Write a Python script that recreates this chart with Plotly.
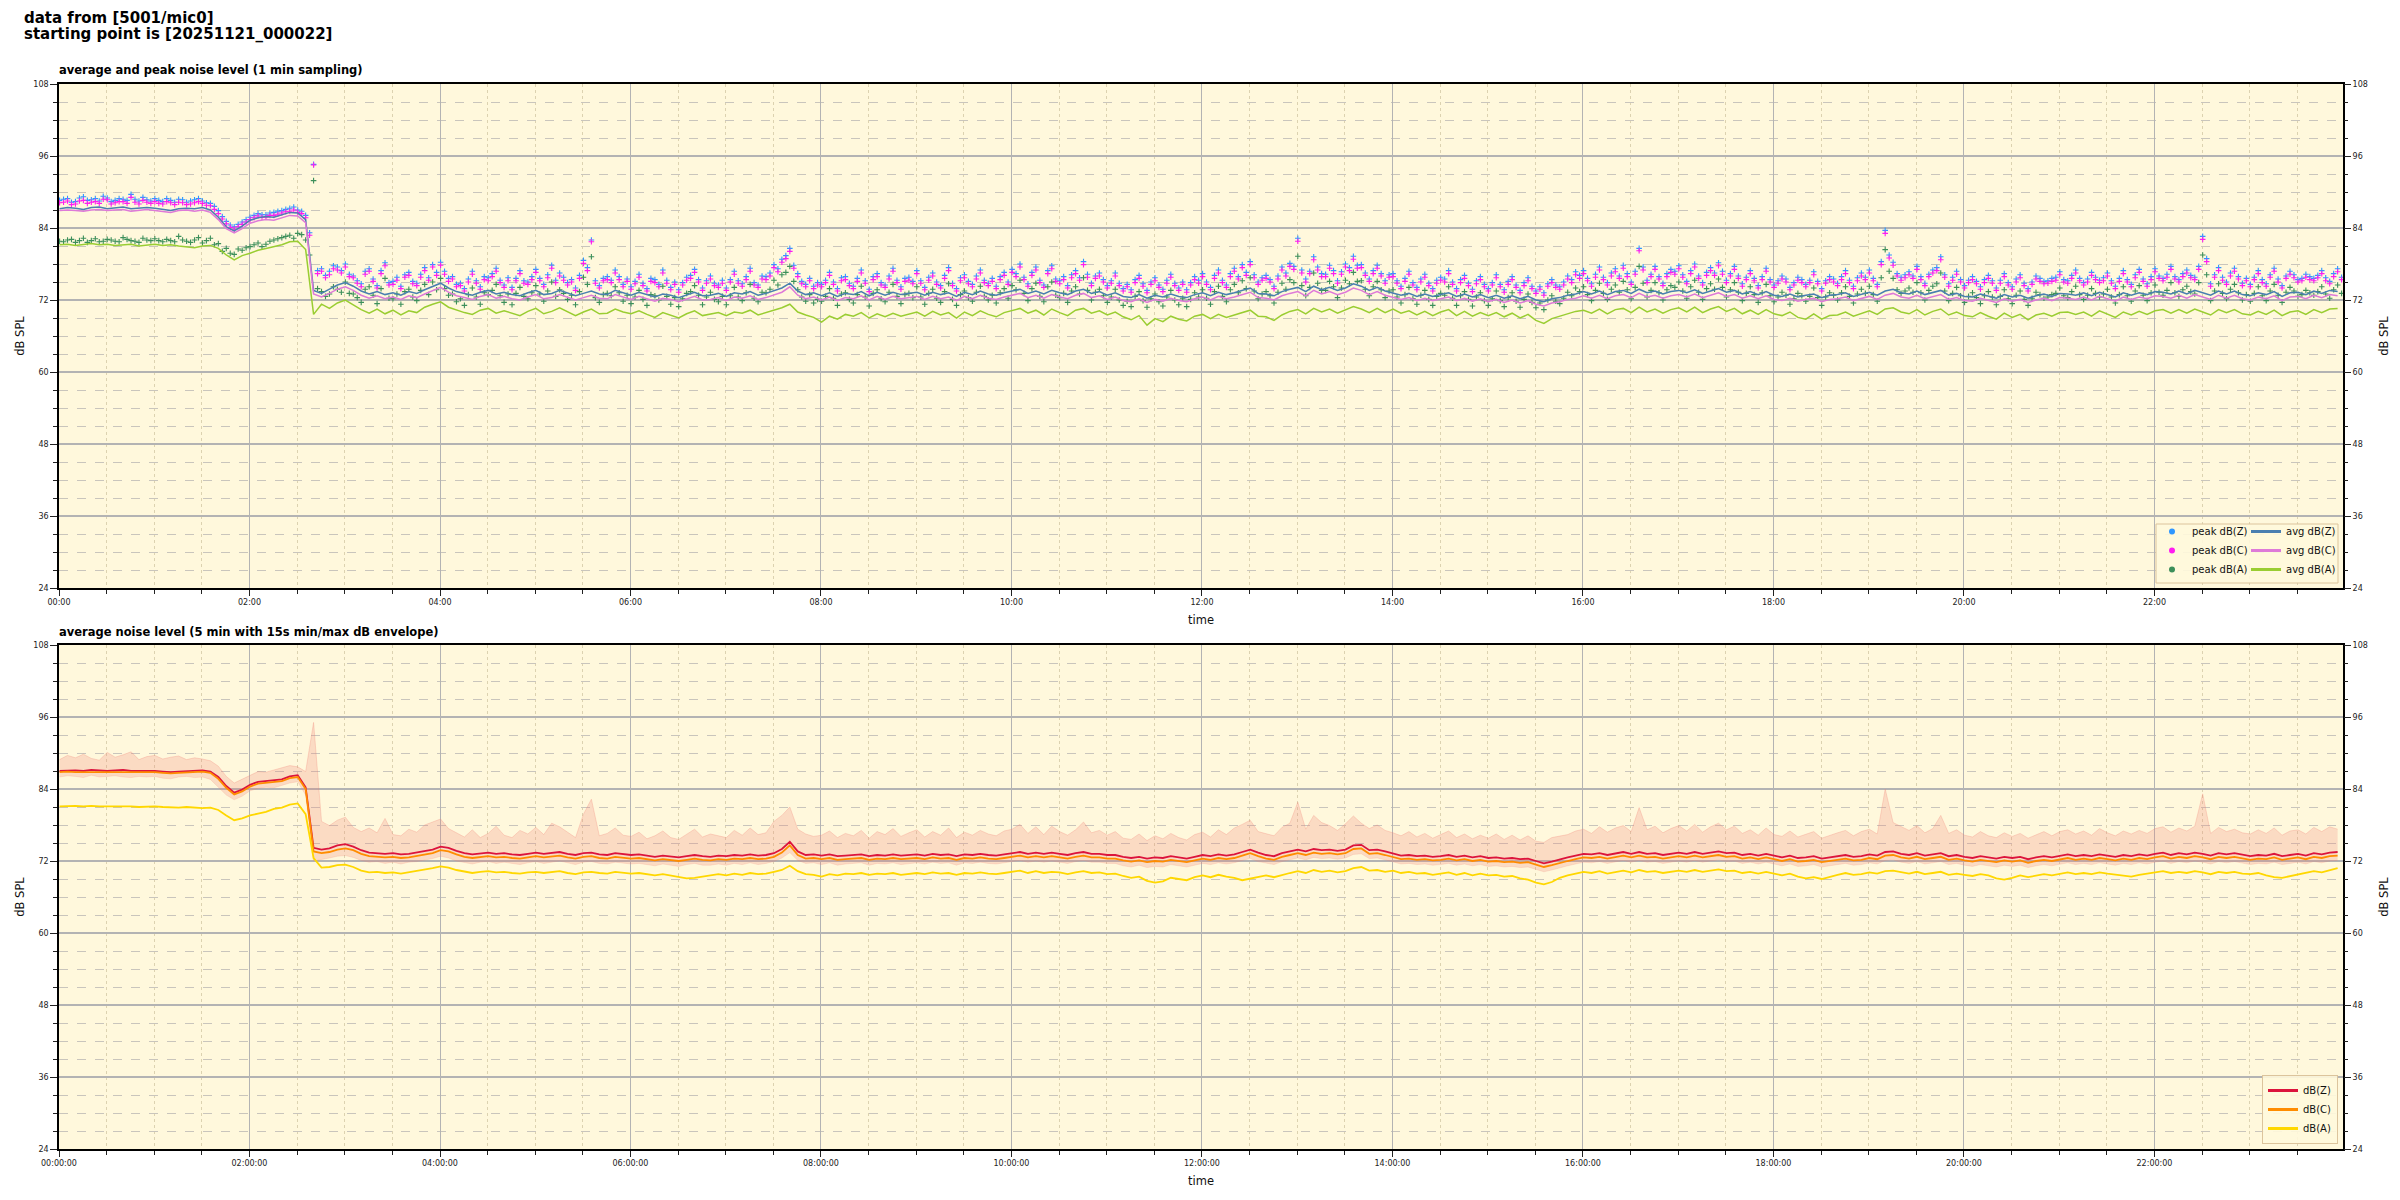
import pandas as pd
import plotly.graph_objects as go

# ---------------- data (values in dB SPL) ----------------
# 5-minute grid starting at the first sample, and the in-between grid (+2.5 min)
t = pd.date_range("2025-11-21 00:00:22", periods=288, freq="5min")
t_mid = t + pd.Timedelta(seconds=150)

avg_z = [
87.2,87.4,87.3,87.1,87.4,87.5,87.2,87.3,87.5,87.2,87.3,87.4,
87.3,87.1,86.9,87.2,87.3,87.2,87.4,87.0,85.8,84.2,83.5,84.3,
85.3,85.7,85.9,85.8,86.2,86.6,86.5,85.4,73.6,73.1,73.8,74.5,
74.9,74.3,73.5,73.0,73.4,72.9,73.2,72.8,73.4,73.1,73.7,74.3,
74.8,74.0,73.4,73.1,72.8,73.3,73.6,73.0,73.3,72.9,72.7,73.2,
73.6,72.9,73.1,73.6,73.2,72.7,73.1,73.5,73.0,72.9,73.6,73.2,
72.8,73.3,72.9,72.5,73.0,72.8,72.4,72.9,73.3,72.7,72.8,73.1,
72.6,73.2,73.0,73.4,72.8,73.1,73.6,74.0,74.8,73.5,72.9,73.2,
72.7,73.2,72.6,73.1,72.9,73.4,72.7,73.3,72.8,73.3,72.9,73.1,
73.3,72.8,73.3,72.9,73.2,72.6,73.3,72.9,73.5,73.0,72.8,73.2,
73.5,73.8,73.1,73.5,73.0,73.6,73.2,72.9,73.5,73.8,73.1,73.4,
72.8,73.2,72.6,72.4,72.9,72.3,72.8,72.5,73.0,72.6,72.4,72.9,
73.2,72.7,73.3,72.9,73.2,73.6,74.0,73.1,73.0,72.7,73.4,73.8,
74.1,73.4,74.3,73.7,74.1,73.6,74.0,74.7,74.3,73.6,74.1,73.5,
73.2,72.8,73.1,72.6,73.0,72.6,72.9,73.2,72.6,73.0,72.5,72.9,
72.4,72.8,72.3,72.7,72.2,72.6,72.0,71.7,72.2,72.4,72.8,73.0,
73.4,73.0,73.5,72.9,73.4,73.6,73.1,73.8,73.2,73.5,73.0,73.4,
73.6,73.2,73.7,73.1,73.5,73.9,73.3,73.6,73.0,73.4,72.9,73.4,
72.8,72.6,73.0,72.5,72.8,73.0,72.4,72.8,72.9,73.2,72.6,73.0,
73.3,72.8,73.5,73.8,73.2,73.0,73.5,72.9,73.2,73.6,72.8,73.1,
72.6,72.5,73.0,72.6,72.3,72.9,72.5,72.8,72.3,72.7,73.0,72.6,
73.1,73.0,72.8,73.2,72.7,73.3,72.9,72.5,73.2,72.8,73.2,72.9,
73.4,73.3,73.0,73.5,73.0,73.6,73.2,72.8,73.5,73.0,73.5,72.9,
72.7,73.2,72.9,73.4,72.6,73.2,73.3,72.9,73.5,73.1,73.6,73.4,
]

avg_c = [
86.9,87.0,86.9,86.8,87.0,87.1,86.9,87.0,87.1,86.8,87.0,87.1,
86.9,86.8,86.6,86.9,87.0,86.8,87.0,86.6,85.4,83.9,83.2,83.9,
84.8,85.2,85.4,85.3,85.7,86.1,86.0,84.9,73.0,72.5,73.1,73.8,
74.2,73.6,72.8,72.3,72.7,72.2,72.5,72.1,72.7,72.4,73.0,73.6,
74.1,73.3,72.7,72.4,72.1,72.6,72.9,72.3,72.6,72.2,72.0,72.5,
72.9,72.2,72.4,72.9,72.5,72.0,72.4,72.8,72.3,72.2,72.9,72.5,
72.1,72.6,72.2,71.8,72.3,72.1,71.7,72.2,72.6,72.0,72.1,72.4,
71.9,72.5,72.3,72.7,72.1,72.4,72.9,73.3,74.2,72.8,72.2,72.5,
72.0,72.5,71.9,72.4,72.2,72.7,72.0,72.6,72.1,72.6,72.2,72.4,
72.6,72.1,72.6,72.2,72.5,71.9,72.6,72.2,72.8,72.3,72.1,72.5,
72.8,73.1,72.4,72.8,72.3,72.9,72.5,72.2,72.8,73.1,72.4,72.7,
72.1,72.5,71.9,71.7,72.2,71.6,72.1,71.8,72.3,71.9,71.7,72.2,
72.5,72.0,72.6,72.2,72.5,72.9,73.3,72.4,72.3,72.0,72.7,73.1,
73.4,72.7,73.6,73.0,73.4,72.9,73.3,74.0,73.6,72.9,73.4,72.8,
72.5,72.1,72.4,71.9,72.3,71.9,72.2,72.5,71.9,72.3,71.8,72.2,
71.7,72.1,71.6,72.0,71.5,71.9,71.3,71.0,71.5,71.7,72.1,72.3,
72.7,72.3,72.8,72.2,72.7,72.9,72.4,73.1,72.5,72.8,72.3,72.7,
72.9,72.5,73.0,72.4,72.8,73.2,72.6,72.9,72.3,72.7,72.2,72.7,
72.1,71.9,72.3,71.8,72.1,72.3,71.7,72.1,72.2,72.5,71.9,72.3,
72.6,72.1,72.8,73.1,72.5,72.3,72.8,72.2,72.5,72.9,72.1,72.4,
71.9,71.8,72.3,71.9,71.6,72.2,71.8,72.1,71.6,72.0,72.3,71.9,
72.4,72.3,72.1,72.5,72.0,72.6,72.2,71.8,72.5,72.1,72.5,72.2,
72.7,72.6,72.3,72.8,72.3,72.9,72.5,72.1,72.8,72.3,72.8,72.2,
72.0,72.5,72.2,72.7,71.9,72.5,72.6,72.2,72.8,72.4,72.9,72.7,
]

avg_a = [
81.2,81.3,81.1,81.2,81.4,81.2,81.3,81.1,81.2,81.3,81.0,81.2,
81.3,81.1,81.2,81.0,80.9,80.7,81.0,81.1,80.6,79.5,78.7,79.4,
79.8,80.3,80.6,80.9,81.2,81.7,81.8,80.4,69.6,71.3,70.6,71.5,
72.0,71.2,70.4,69.8,70.5,69.7,70.3,69.5,70.2,69.9,70.8,71.3,
71.7,70.8,70.3,69.9,69.6,70.3,70.6,69.8,70.2,69.8,69.4,70.1,
70.6,69.7,70.1,70.7,70.1,69.4,70.0,70.5,69.7,69.8,70.5,70.0,
69.7,70.2,69.6,69.1,69.9,69.5,69.0,69.7,70.2,69.4,69.6,69.9,
69.4,70.0,69.8,70.3,69.5,69.9,70.4,70.7,71.3,70.0,69.5,69.1,
68.3,69.3,68.8,69.6,69.3,69.9,69.0,69.7,69.2,69.8,69.3,69.6,
70.0,69.3,70.1,69.5,69.9,69.0,70.0,69.4,70.2,69.6,69.2,69.9,
70.2,70.6,69.8,70.3,69.5,70.5,69.9,69.4,70.3,70.6,69.8,70.2,
69.5,70.0,69.2,68.7,69.4,67.8,68.9,68.4,69.3,68.8,68.5,69.3,
69.6,68.9,69.6,69.1,69.5,69.9,70.3,69.3,69.2,68.6,69.5,70.1,
70.4,69.7,70.6,70.0,70.5,69.8,70.4,70.9,70.5,69.9,70.6,69.9,
70.5,69.8,70.2,69.5,70.1,69.4,70.0,70.4,69.4,70.1,69.3,69.9,
69.4,69.9,69.2,69.8,69.0,69.6,68.6,68.1,68.9,69.3,69.7,70.1,
70.3,69.8,70.5,69.7,70.4,70.6,69.9,70.8,70.0,70.5,69.8,70.4,
70.7,70.0,70.8,69.9,70.5,70.9,70.1,70.6,69.7,70.3,69.6,70.4,
69.7,69.4,70.0,69.1,68.8,69.7,68.8,69.4,69.5,70.0,69.3,69.8,
70.2,69.6,70.5,70.7,70.0,69.7,70.4,69.5,70.1,70.5,69.5,70.0,
69.4,69.2,69.9,69.3,68.8,69.8,69.1,69.6,68.7,69.5,69.8,69.3,
69.9,70.0,69.6,70.0,69.3,70.2,69.6,69.1,70.0,69.5,70.1,69.6,
70.2,70.4,69.8,70.4,69.8,70.5,70.0,69.5,70.4,69.9,70.4,69.7,
69.5,70.1,69.6,70.3,69.4,70.0,70.2,69.6,70.4,69.9,70.5,70.6,
]

# per-minute peaks, read at 2.5-minute spacing: *_on at t, *_mid at t_mid
peak_z_on = [
88.6,88.9,88.4,89.2,88.7,88.5,89.0,88.6,88.8,89.6,88.5,88.7,
88.9,88.4,88.6,88.8,88.3,88.7,88.5,88.1,86.9,85.1,84.2,85.0,
85.8,86.4,86.2,86.6,86.9,87.3,87.0,86.1,94.6,77.2,76.8,77.5,
78.0,76.0,74.7,77.2,74.4,78.2,75.1,74.3,76.6,74.8,77.4,77.9,
78.3,75.6,74.6,73.9,76.8,74.2,75.7,77.3,74.5,74.1,76.9,75.0,
77.1,74.6,77.8,76.5,74.9,74.0,78.6,82.0,74.4,75.9,77.0,74.6,
74.2,76.3,73.9,75.4,77.0,74.1,73.7,75.8,77.1,74.0,76.0,74.5,
74.0,76.8,74.7,77.3,74.5,75.9,77.9,78.8,80.6,76.4,74.6,74.3,
74.6,76.6,73.9,75.9,74.3,77.0,73.8,76.4,74.5,77.3,74.2,75.8,
76.9,74.1,76.5,74.4,77.4,73.9,76.2,74.6,77.0,74.8,74.3,76.6,
77.1,78.0,74.7,77.5,74.5,77.7,75.2,74.4,76.9,78.4,74.8,76.5,
74.4,76.5,73.9,73.7,76.1,73.6,75.7,73.8,76.3,74.0,73.7,75.9,
76.4,74.1,77.0,74.5,77.3,77.9,78.4,75.0,76.1,74.3,77.5,78.1,
82.3,75.5,79.2,76.4,77.8,75.2,78.0,79.3,77.9,75.5,77.8,75.2,
76.4,74.3,76.8,74.1,76.3,73.9,75.8,76.9,73.9,76.1,73.8,75.9,
73.9,76.2,73.7,75.9,73.6,75.7,73.5,73.2,75.4,74.2,76.0,76.7,
76.9,74.7,77.5,74.9,77.2,77.8,75.0,80.6,75.3,77.6,74.8,77.1,
77.7,75.1,78.0,74.9,77.4,78.2,75.3,77.6,74.7,76.9,74.4,77.3,
74.5,76.0,74.1,75.8,74.6,76.7,73.9,75.9,74.8,76.9,74.3,76.5,
77.0,74.6,83.6,78.3,75.8,76.7,77.6,74.8,77.0,79.2,74.7,76.8,
74.4,75.9,74.2,76.1,74.0,76.4,74.2,76.2,73.9,76.0,75.1,75.6,
76.7,75.2,77.0,74.9,76.6,75.3,76.5,74.3,76.9,74.6,77.1,74.7,
77.2,75.6,77.6,75.4,77.0,75.8,82.6,74.7,77.4,75.0,77.3,74.8,
74.6,76.9,74.7,77.3,74.4,76.8,75.4,76.3,75.6,76.9,75.1,77.2,
]

peak_z_mid = [
88.8,88.3,89.0,88.6,88.9,89.3,88.4,88.9,88.6,88.8,89.1,88.5,
88.6,88.9,88.3,88.7,88.5,88.9,88.2,87.6,85.9,84.5,84.6,85.4,
86.1,86.2,86.5,86.8,87.1,87.5,86.8,83.2,76.9,76.1,77.7,76.9,
76.3,75.2,76.8,75.5,76.9,74.9,75.8,76.2,75.1,76.3,75.7,76.6,
76.8,75.9,74.8,75.5,75.2,75.9,76.4,75.3,75.7,75.6,75.2,75.9,
75.6,76.2,75.3,75.8,75.4,76.1,77.4,75.2,75.6,75.3,75.9,75.5,
75.1,74.8,75.6,74.6,75.3,75.0,74.9,76.1,75.4,75.2,74.8,75.3,
75.4,75.2,75.9,74.9,76.0,76.5,77.2,79.4,77.8,75.1,75.6,74.9,
75.3,75.0,75.7,74.8,75.6,75.2,75.9,74.9,76.0,75.3,75.6,75.1,
75.2,75.8,75.0,76.1,74.8,75.7,75.1,76.0,75.3,75.6,75.9,75.0,
76.4,75.8,76.6,75.3,76.9,75.5,75.9,76.2,75.7,76.3,76.0,75.4,
75.2,74.8,74.6,75.4,74.7,75.0,74.5,75.3,74.8,75.0,74.9,75.3,
75.0,76.1,75.3,76.4,75.9,76.6,76.2,75.7,75.4,76.0,76.5,77.6,
77.0,76.8,77.5,76.3,76.9,76.7,77.4,77.8,76.5,76.9,76.4,76.2,
75.2,75.6,74.9,75.5,74.8,75.3,75.5,75.0,75.4,74.8,75.2,74.6,
74.9,74.6,75.1,74.5,74.9,74.3,74.2,74.7,74.5,75.0,75.4,76.1,
75.6,76.3,75.8,76.5,76.0,76.4,76.8,77.5,76.3,75.9,76.4,76.8,
76.2,76.9,76.0,76.6,76.5,76.8,76.4,76.0,75.8,75.6,75.9,75.4,
75.2,75.5,74.9,75.4,75.3,75.1,75.2,75.5,75.9,75.3,75.7,75.8,
75.6,78.4,79.5,76.4,76.2,76.0,75.9,76.3,77.4,76.2,75.8,75.4,
75.3,75.1,75.4,75.2,75.3,74.9,75.5,74.8,75.0,75.6,75.2,75.8,
75.4,76.1,75.6,75.5,75.8,75.7,75.2,75.6,75.4,76.2,75.5,75.9,
76.0,76.3,75.9,76.4,76.1,77.6,78.9,76.2,75.8,76.5,75.9,75.6,
75.8,75.4,76.2,75.5,76.0,76.2,75.6,75.9,76.1,75.7,76.4,75.8,
]

peak_c_on = [
88.2,88.5,88.0,88.6,88.3,88.1,88.7,88.2,88.4,89.1,88.0,88.3,
88.4,88.0,88.2,88.3,87.9,88.2,88.1,87.7,86.4,84.7,83.8,84.6,
85.4,86.0,85.8,86.1,86.5,86.8,86.6,85.7,94.5,76.8,76.2,77.0,
77.5,75.7,74.2,76.8,74.0,77.7,74.6,73.9,76.1,74.4,76.9,77.5,
77.8,75.1,74.2,73.5,76.3,73.8,75.2,76.8,74.1,73.7,76.4,74.6,
76.6,74.2,77.3,76.0,74.5,73.6,78.1,81.7,74.0,75.4,76.5,74.2,
73.8,75.8,73.5,74.9,76.5,73.7,73.3,75.3,76.6,73.6,75.5,74.1,
73.6,76.3,74.3,76.8,74.1,75.4,77.4,78.3,80.1,75.9,74.2,73.9,
74.2,76.1,73.5,75.4,73.9,76.5,73.4,75.9,74.1,76.8,73.8,75.3,
76.4,73.7,76.0,74.0,76.9,73.5,75.7,74.2,76.5,74.4,73.9,76.1,
76.6,77.5,74.3,77.0,74.1,77.2,74.7,74.0,76.4,77.9,74.4,76.0,
74.0,76.0,73.5,73.3,75.6,73.2,75.2,73.4,75.8,73.6,73.3,75.4,
75.9,73.7,76.5,74.1,76.8,77.4,77.9,74.6,75.6,73.9,77.0,77.6,
81.8,75.0,78.7,75.9,77.3,74.8,77.5,78.8,77.4,75.1,77.3,74.8,
75.9,73.9,76.3,73.7,75.8,73.5,75.3,76.4,73.5,75.6,73.4,75.4,
73.5,75.7,73.3,75.4,73.2,75.2,73.1,72.8,74.9,73.8,75.5,76.2,
76.4,74.3,77.0,74.5,76.7,77.3,74.6,80.2,74.9,77.1,74.4,76.6,
77.2,74.7,77.5,74.5,76.9,77.7,74.9,77.1,74.3,76.4,74.0,76.8,
74.1,75.5,73.7,75.3,74.2,76.2,73.5,75.4,74.4,76.4,73.9,76.0,
76.5,74.2,83.1,77.8,75.3,76.2,77.1,74.4,76.5,78.7,74.3,76.3,
74.0,75.4,73.8,75.6,73.6,75.9,73.8,75.7,73.5,75.5,74.7,75.1,
76.2,74.8,76.5,74.5,76.1,74.9,76.0,73.9,76.4,74.2,76.6,74.3,
76.7,75.2,77.1,75.0,76.5,75.4,82.1,74.3,76.9,74.6,76.8,74.4,
74.2,76.4,74.3,76.8,74.0,76.3,75.0,75.8,75.2,76.4,74.7,76.7,
]

peak_c_mid = [
88.3,87.9,88.5,88.1,88.4,88.8,88.0,88.4,88.1,88.3,88.6,88.1,
88.1,88.4,87.9,88.2,88.0,88.4,87.8,87.1,85.5,84.1,84.2,85.0,
85.7,85.8,86.1,86.3,86.7,87.0,86.4,82.8,76.4,75.7,77.2,76.5,
75.9,74.8,76.3,75.1,76.4,74.5,75.3,75.8,74.7,75.8,75.3,76.1,
76.3,75.5,74.4,75.0,74.8,75.4,75.9,74.9,75.2,75.2,74.8,75.4,
75.2,75.7,74.9,75.3,75.0,75.6,76.9,74.8,75.2,74.9,75.4,75.1,
74.7,74.4,75.1,74.2,74.8,74.6,74.5,75.6,75.0,74.8,74.4,74.8,
75.0,74.8,75.4,74.5,75.5,76.0,76.7,78.9,77.3,74.7,75.2,74.5,
74.9,74.6,75.2,74.4,75.1,74.8,75.4,74.5,75.5,74.9,75.1,74.7,
74.8,75.3,74.6,75.6,74.4,75.2,74.7,75.5,74.9,75.1,75.4,74.6,
75.9,75.4,76.1,74.9,76.4,75.1,75.4,75.7,75.3,75.8,75.6,75.0,
74.8,74.4,74.2,74.9,74.3,74.6,74.1,74.8,74.4,74.6,74.5,74.8,
74.6,75.6,74.9,75.9,75.5,76.1,75.7,75.3,75.0,75.5,76.0,77.1,
76.5,76.4,77.0,75.9,76.4,76.3,76.9,77.3,76.1,76.4,76.0,75.8,
74.8,75.1,74.5,75.0,74.4,74.8,75.0,74.6,74.9,74.4,74.7,74.2,
74.5,74.2,74.6,74.1,74.4,73.9,73.8,74.3,74.1,74.5,74.9,75.6,
75.2,75.8,75.4,76.0,75.6,75.9,76.3,77.0,75.9,75.5,75.9,76.3,
75.8,76.4,75.6,76.1,76.1,76.3,76.0,75.6,75.4,75.2,75.4,75.0,
74.8,75.0,74.5,74.9,74.9,74.7,74.8,75.0,75.4,74.9,75.2,75.4,
75.2,77.9,79.0,76.0,75.7,75.6,75.4,75.9,76.9,75.8,75.3,75.0,
74.9,74.7,74.9,74.8,74.8,74.5,75.0,74.4,74.6,75.1,74.8,75.3,
75.0,75.6,75.2,75.0,75.4,75.2,74.8,75.1,75.0,75.7,75.1,75.4,
75.6,75.8,75.5,75.9,75.7,77.1,78.4,75.8,75.3,76.0,75.5,75.2,
75.4,74.9,75.8,75.0,75.6,75.7,75.2,75.4,75.7,75.2,75.9,75.4,
]

peak_a_on = [
81.8,82.0,81.6,82.3,81.9,81.7,82.1,81.8,82.4,81.9,81.6,82.0,
82.2,81.7,81.9,82.6,81.8,82.0,81.5,82.3,81.4,80.6,79.6,80.3,
80.9,81.5,81.3,82.0,82.4,82.8,83.1,82.0,91.9,73.4,73.0,73.8,
75.0,73.0,71.6,74.2,71.4,75.6,72.2,71.3,73.8,71.9,74.6,75.0,
75.6,72.8,71.7,71.1,74.0,71.3,72.9,74.6,71.6,71.2,74.1,72.2,
74.4,71.8,75.0,73.7,72.1,71.2,75.8,79.2,71.6,73.1,74.2,71.8,
71.4,73.6,71.1,72.7,74.3,71.3,70.9,73.1,74.4,71.2,73.3,71.7,
71.2,74.1,71.9,74.6,71.7,73.2,75.3,76.2,77.6,73.7,71.8,71.5,
71.8,73.9,71.1,73.2,71.5,74.3,71.0,73.7,71.7,74.6,71.4,73.1,
74.2,71.3,73.8,71.6,74.7,71.1,73.5,71.8,74.3,72.0,71.5,73.9,
74.4,75.3,71.9,74.8,71.7,75.0,72.4,71.6,74.2,75.7,72.0,73.8,
71.6,73.8,71.1,70.9,73.4,70.8,73.0,71.0,73.6,71.2,70.9,73.2,
73.7,71.3,74.3,71.7,74.6,75.2,75.7,72.2,73.4,71.5,74.8,75.4,
79.3,72.7,76.5,73.6,75.1,72.4,75.3,76.6,75.2,72.7,75.1,72.4,
73.7,71.5,74.1,71.3,73.6,71.1,73.1,74.2,71.1,73.4,71.0,73.2,
71.1,73.5,70.9,73.2,70.8,73.0,70.7,70.4,72.7,71.4,73.3,74.0,
74.2,71.9,74.8,72.1,74.5,75.1,72.2,77.6,72.5,74.9,72.0,74.4,
75.0,72.3,75.3,72.1,74.7,75.5,72.5,74.9,71.9,74.2,71.6,74.6,
71.7,73.3,71.3,73.1,71.8,74.0,71.1,73.2,72.0,74.2,71.5,73.8,
74.3,71.8,80.4,75.6,73.1,74.0,74.9,72.0,74.3,76.5,71.9,74.1,
71.6,73.2,71.4,73.4,71.2,73.7,71.4,73.5,71.1,73.3,72.3,72.9,
74.0,72.4,74.3,72.1,73.9,72.5,73.8,71.5,74.2,71.8,74.4,71.9,
74.5,72.8,74.9,72.6,74.3,73.0,79.5,71.9,74.7,72.2,74.6,72.0,
71.8,74.2,71.9,74.6,71.6,74.1,72.6,73.6,72.8,74.2,72.3,74.5,
]

peak_a_mid = [
81.7,82.1,81.9,81.6,82.2,81.8,82.0,81.7,82.1,81.8,82.3,81.9,
81.9,82.1,81.7,82.0,81.6,82.4,81.9,81.2,80.1,79.8,80.5,80.7,
81.2,80.9,81.8,82.2,82.6,82.3,82.9,79.5,73.9,72.6,74.2,73.3,
73.1,72.4,73.8,72.8,73.9,72.3,73.0,73.4,72.5,73.6,72.9,73.7,
73.9,73.0,72.2,72.9,72.5,73.2,73.6,72.7,73.0,73.1,72.6,73.2,
73.0,73.5,72.6,73.1,72.8,73.4,74.6,72.4,72.9,72.7,73.2,72.8,
72.5,72.1,72.9,72.0,72.6,72.4,72.2,73.4,72.8,72.5,72.1,72.6,
72.7,72.5,73.2,72.3,73.3,73.8,74.5,76.6,75.1,72.5,72.9,72.1,
72.6,72.3,73.0,72.1,72.9,72.5,73.1,72.2,73.3,72.6,72.9,72.4,
72.5,73.1,72.3,73.4,72.1,72.9,72.4,73.3,72.6,72.8,73.2,72.3,
73.7,73.1,73.9,72.6,74.2,72.8,73.1,73.5,73.0,73.6,73.3,72.7,
72.5,72.0,71.8,72.6,71.9,72.2,71.7,72.5,72.0,72.3,72.1,72.5,
72.3,73.4,72.6,73.7,73.2,73.9,73.5,73.0,72.7,73.3,73.8,74.9,
74.4,74.1,74.8,73.6,74.2,74.0,74.7,75.1,73.8,74.2,73.7,73.5,
72.5,72.9,72.2,72.8,72.1,72.6,72.8,72.3,72.7,72.1,72.5,71.9,
72.2,71.9,72.4,71.8,72.1,71.6,71.5,72.0,71.8,72.3,72.7,73.4,
72.9,73.6,73.1,73.8,73.3,73.7,74.1,74.8,73.6,73.2,73.7,74.1,
73.5,74.2,73.3,73.9,73.8,74.1,73.7,73.3,73.1,72.9,73.2,72.7,
72.5,72.8,72.2,72.7,72.6,72.4,72.5,72.8,73.2,72.6,73.0,73.1,
72.9,75.7,76.8,73.7,73.5,73.3,73.2,73.6,74.7,73.5,73.1,72.7,
72.6,72.4,72.7,72.5,72.6,72.2,72.8,72.1,72.3,72.9,72.5,73.1,
72.7,73.4,72.9,72.8,73.1,73.0,72.5,72.9,72.7,73.5,72.8,73.2,
73.3,73.6,73.2,73.7,73.4,74.9,76.2,73.5,73.1,73.8,73.2,72.9,
73.1,72.7,73.5,72.8,73.3,73.5,72.9,73.2,73.4,73.0,73.7,73.1,
]

# 5-minute averages (lower chart)
db_z = [
87.0,87.1,87.1,87.0,87.2,87.1,87.0,87.1,87.2,87.0,87.0,87.1,
87.0,86.9,86.8,86.9,87.0,87.0,87.1,86.9,86.0,84.5,83.4,83.9,
84.7,85.2,85.3,85.4,85.6,86.1,86.3,84.3,74.2,73.9,74.1,74.6,
74.8,74.4,73.8,73.4,73.3,73.2,73.3,73.1,73.2,73.4,73.6,73.9,
74.4,74.2,73.7,73.3,73.1,73.2,73.4,73.2,73.3,73.1,73.0,73.2,
73.4,73.2,73.3,73.5,73.2,73.0,73.3,73.4,73.1,73.0,73.3,73.2,
73.0,73.1,72.9,72.7,72.9,72.8,72.6,72.8,73.0,72.8,72.7,72.9,
72.8,73.0,72.9,73.1,72.9,73.0,73.3,74.0,75.2,73.6,73.0,73.1,
72.9,73.1,72.8,72.9,73.0,73.1,72.8,73.0,72.9,73.1,72.9,73.0,
73.1,72.9,73.2,73.0,73.1,72.8,73.1,73.0,73.2,73.0,72.9,73.1,
73.3,73.5,73.2,73.4,73.2,73.4,73.2,73.0,73.3,73.5,73.2,73.2,
73.0,73.0,72.7,72.5,72.7,72.4,72.6,72.5,72.8,72.6,72.4,72.7,
73.0,72.8,73.1,72.9,73.1,73.5,73.9,73.4,73.0,72.8,73.3,73.6,
73.9,73.6,74.0,73.8,73.9,73.7,73.9,74.6,74.7,73.8,73.9,73.6,
73.2,72.9,73.0,72.8,72.9,72.7,72.8,73.0,72.7,72.9,72.6,72.8,
72.5,72.6,72.4,72.5,72.3,72.4,72.0,71.6,71.9,72.3,72.6,72.9,
73.2,73.1,73.3,73.0,73.2,73.5,73.2,73.5,73.2,73.3,73.0,73.2,
73.4,73.2,73.5,73.2,73.4,73.6,73.3,73.4,73.0,73.2,72.9,73.2,
72.9,72.6,72.9,72.5,72.6,72.8,72.4,72.6,72.8,73.0,72.7,72.8,
73.1,72.9,73.5,73.6,73.2,73.0,73.3,72.9,73.1,73.3,72.8,73.0,
72.7,72.5,72.8,72.6,72.4,72.7,72.5,72.7,72.3,72.6,72.8,72.6,
72.9,73.1,72.8,73.0,72.8,73.1,72.9,72.7,73.0,72.8,73.1,72.9,
73.2,73.4,73.0,73.3,73.1,73.4,73.2,72.9,73.3,73.1,73.3,73.0,
72.8,73.0,72.9,73.2,72.8,73.0,73.2,72.9,73.3,73.1,73.4,73.5,
]

db_c = [
86.8,86.9,86.8,86.8,86.9,86.8,86.8,86.9,86.9,86.8,86.8,86.9,
86.8,86.7,86.6,86.7,86.8,86.8,86.9,86.7,85.7,84.2,83.1,83.6,
84.4,84.9,85.0,85.1,85.3,85.8,86.0,84.0,73.6,73.3,73.5,73.9,
74.1,73.8,73.2,72.8,72.7,72.6,72.7,72.5,72.6,72.8,73.0,73.3,
73.8,73.6,73.1,72.7,72.5,72.6,72.8,72.6,72.7,72.5,72.4,72.6,
72.8,72.6,72.7,72.9,72.6,72.4,72.7,72.8,72.5,72.4,72.7,72.6,
72.4,72.5,72.3,72.1,72.3,72.2,72.0,72.2,72.4,72.2,72.1,72.3,
72.2,72.4,72.3,72.5,72.3,72.4,72.7,73.4,74.6,73.0,72.4,72.5,
72.3,72.5,72.2,72.3,72.4,72.5,72.2,72.4,72.3,72.5,72.3,72.4,
72.5,72.3,72.6,72.4,72.5,72.2,72.5,72.4,72.6,72.4,72.3,72.5,
72.7,72.9,72.6,72.8,72.6,72.8,72.6,72.4,72.7,72.9,72.6,72.6,
72.4,72.4,72.1,71.9,72.1,71.8,72.0,71.9,72.2,72.0,71.8,72.1,
72.4,72.2,72.5,72.3,72.5,72.9,73.3,72.8,72.4,72.2,72.7,73.0,
73.3,73.0,73.4,73.2,73.3,73.1,73.3,74.0,74.1,73.2,73.3,73.0,
72.6,72.3,72.4,72.2,72.3,72.1,72.2,72.4,72.1,72.3,72.0,72.2,
71.9,72.0,71.8,71.9,71.7,71.8,71.4,71.0,71.3,71.7,72.0,72.3,
72.6,72.5,72.7,72.4,72.6,72.9,72.6,72.9,72.6,72.7,72.4,72.6,
72.8,72.6,72.9,72.6,72.8,73.0,72.7,72.8,72.4,72.6,72.3,72.6,
72.3,72.0,72.3,71.9,72.0,72.2,71.8,72.0,72.2,72.4,72.1,72.2,
72.5,72.3,72.9,73.0,72.6,72.4,72.7,72.3,72.5,72.7,72.2,72.4,
72.1,71.9,72.2,72.0,71.8,72.1,71.9,72.1,71.7,72.0,72.2,72.0,
72.3,72.5,72.2,72.4,72.2,72.5,72.3,72.1,72.4,72.2,72.5,72.3,
72.6,72.8,72.4,72.7,72.5,72.8,72.6,72.3,72.7,72.5,72.7,72.4,
72.2,72.4,72.3,72.6,72.2,72.4,72.6,72.3,72.7,72.5,72.8,72.9,
]

db_a = [
81.1,81.2,81.2,81.1,81.2,81.1,81.1,81.2,81.2,81.1,81.0,81.1,
81.1,81.0,80.9,80.9,81.0,80.9,80.8,80.9,80.5,79.6,78.8,79.1,
79.6,79.9,80.2,80.7,80.9,81.4,81.6,79.8,72.5,70.9,71.0,71.3,
71.4,71.0,70.4,70.1,70.2,70.0,70.1,69.9,70.1,70.3,70.5,70.8,
71.1,70.9,70.5,70.2,70.0,70.2,70.3,70.1,70.2,70.0,69.9,70.1,
70.2,70.0,70.1,70.3,70.0,69.8,70.1,70.2,70.0,69.9,70.2,70.1,
69.9,70.0,69.8,69.6,69.8,69.6,69.3,69.1,69.2,69.4,69.7,69.8,
69.6,69.9,69.7,70.0,69.8,69.9,70.2,70.5,71.2,70.3,69.8,69.7,
69.4,69.8,69.6,69.9,69.8,70.0,69.7,69.9,69.8,70.0,69.7,69.9,
70.0,69.8,70.1,69.9,70.0,69.7,70.0,69.9,70.1,69.9,69.8,70.0,
70.2,70.4,70.0,70.3,70.0,70.2,70.1,69.8,70.1,70.3,70.0,70.1,
69.8,69.9,69.5,69.2,69.4,68.7,68.4,68.6,69.2,69.0,68.8,69.3,
69.6,69.3,69.7,69.4,69.2,68.8,69.1,69.4,69.6,69.3,69.7,70.0,
70.3,70.0,70.5,70.2,70.4,70.1,70.3,70.8,71.0,70.4,70.5,70.2,
70.4,70.0,70.2,69.9,70.0,69.7,69.9,70.1,69.7,70.0,69.6,69.9,
69.6,69.7,69.4,69.5,69.1,68.9,68.4,68.1,68.5,69.2,69.6,69.9,
70.2,70.0,70.3,69.9,70.2,70.4,70.1,70.5,70.2,70.3,70.0,70.2,
70.4,70.2,70.5,70.2,70.4,70.6,70.3,70.4,70.0,70.2,69.9,70.2,
69.9,69.6,69.9,69.4,69.1,69.3,69.0,69.4,69.7,70.0,69.7,69.8,
70.1,69.9,70.3,70.4,70.1,69.9,70.2,69.8,70.0,70.2,69.7,69.9,
69.7,69.5,69.8,69.6,69.1,68.9,69.2,69.6,69.3,69.6,69.8,69.6,
69.9,70.1,69.8,70.0,69.8,70.1,69.9,69.7,69.5,69.4,69.7,69.9,
70.1,70.3,70.0,70.2,70.0,70.3,70.1,69.8,70.2,70.0,70.2,69.9,
69.8,70.0,69.6,69.3,69.2,69.5,69.8,70.0,70.3,70.1,70.5,70.8,
]

# 15 s min / max envelope of dB(Z), per 5-minute block
env_max = [
88.9,89.6,89.2,89.8,89.1,88.8,90.1,89.3,89.7,90.2,88.9,89.4,
89.6,89.0,89.3,89.5,88.9,89.2,89.0,88.7,87.8,86.1,85.0,85.6,
86.3,86.9,86.8,87.2,87.6,87.9,87.7,86.9,95.1,78.6,77.9,78.8,
79.3,77.6,76.9,77.5,76.7,79.1,76.4,76.2,77.3,76.8,78.0,78.5,
79.0,77.4,76.7,76.0,77.2,75.9,76.6,77.8,76.3,75.9,77.1,76.5,
77.6,76.4,78.3,77.7,76.8,75.9,79.8,82.3,76.2,76.6,77.5,76.3,
76.1,76.8,75.7,76.2,77.0,75.9,75.6,76.4,77.3,76.0,76.5,76.2,
75.9,77.1,76.3,77.5,76.4,76.7,78.6,79.6,81.0,77.3,76.5,76.1,
76.3,77.0,75.9,76.6,76.2,77.1,75.8,76.9,76.4,77.4,76.1,76.7,
77.2,76.0,76.9,76.3,77.5,75.9,76.8,76.3,77.1,76.5,76.2,77.0,
77.3,78.1,76.6,77.7,76.4,77.8,76.9,76.3,77.2,78.5,76.7,77.1,
76.3,76.9,75.8,75.6,76.5,75.4,76.2,75.7,76.6,75.9,75.5,76.4,
76.8,76.0,77.2,76.4,77.5,78.1,78.8,76.9,76.5,76.2,77.6,78.3,
81.8,77.3,79.6,78.4,77.9,77.1,78.2,79.5,78.3,77.4,78.0,77.1,
76.7,76.2,76.9,76.0,76.6,75.8,76.4,77.0,75.9,76.5,75.7,76.3,
75.8,76.5,75.6,76.3,75.5,76.2,75.3,75.1,75.9,76.1,76.4,77.0,
77.3,76.6,77.7,76.8,77.5,77.9,76.9,80.9,77.2,77.8,76.7,77.4,
77.9,77.0,78.1,76.8,77.7,78.3,77.2,77.8,76.6,77.2,76.3,77.5,
76.4,76.1,77.0,76.0,76.5,76.9,75.8,76.3,76.7,77.1,76.2,76.9,
77.3,76.5,84.0,78.4,77.7,77.1,77.9,76.7,77.4,79.6,76.6,77.2,
76.3,76.0,76.9,76.2,75.9,76.7,76.1,76.6,75.8,76.4,76.9,76.2,
76.9,77.2,76.5,77.0,76.3,77.4,76.7,76.2,77.0,76.5,77.1,76.6,
77.4,77.7,76.8,77.5,77.0,77.8,83.2,76.6,77.6,76.9,77.3,76.7,
76.5,77.2,76.6,77.5,76.3,77.0,77.2,76.5,77.6,76.9,77.7,77.3,
]

env_min = [
86.0,86.2,86.1,85.9,86.3,86.0,86.1,86.2,86.0,85.9,86.1,86.0,
86.1,85.8,85.7,86.0,86.1,85.9,86.0,85.6,84.3,83.0,82.2,82.8,
83.7,84.1,84.3,84.2,84.6,85.0,85.2,83.0,72.0,72.2,72.5,72.8,
72.9,72.6,72.1,71.8,71.9,71.6,71.8,71.5,71.8,71.9,72.1,72.4,
72.8,72.5,72.0,71.7,71.5,71.8,71.9,71.6,71.8,71.6,71.4,71.7,
71.9,71.6,71.8,72.0,71.7,71.4,71.8,71.9,71.6,71.5,71.8,71.7,
71.5,71.6,71.4,71.2,71.5,71.3,71.1,71.4,71.6,71.3,71.3,71.5,
71.3,71.6,71.4,71.7,71.4,71.6,71.9,72.5,73.4,72.1,71.6,71.7,
71.4,71.7,71.3,71.5,71.6,71.7,71.3,71.6,71.5,71.7,71.4,71.6,
71.7,71.5,71.8,71.6,71.7,71.3,71.7,71.6,71.8,71.6,71.5,71.7,
71.9,72.1,71.8,72.0,71.8,72.0,71.8,71.6,71.9,72.1,71.8,71.8,
71.6,71.6,71.2,71.0,71.3,70.9,71.1,71.0,71.4,71.2,71.0,71.3,
71.6,71.4,71.7,71.5,71.7,72.1,72.4,71.9,71.6,71.4,71.9,72.2,
72.5,72.2,72.6,72.4,72.5,72.3,72.5,73.1,73.2,72.4,72.5,72.2,
71.8,71.5,71.6,71.4,71.5,71.3,71.4,71.6,71.3,71.5,71.2,71.4,
71.1,71.2,71.0,71.1,70.9,71.0,70.6,70.2,70.5,70.9,71.2,71.5,
71.8,71.7,71.9,71.6,71.8,72.1,71.8,72.1,71.8,71.9,71.6,71.8,
72.0,71.8,72.1,71.8,72.0,72.2,71.9,72.0,71.6,71.8,71.5,71.8,
71.5,71.2,71.5,71.1,71.2,71.4,71.0,71.2,71.4,71.6,71.3,71.4,
71.7,71.5,72.1,72.2,71.8,71.6,71.9,71.5,71.7,71.9,71.4,71.6,
71.3,71.1,71.4,71.2,71.0,71.3,71.1,71.3,70.9,71.2,71.4,71.2,
71.5,71.7,71.4,71.6,71.4,71.7,71.5,71.3,71.6,71.4,71.7,71.5,
71.8,72.0,71.6,71.9,71.7,72.0,71.8,71.5,71.9,71.7,71.9,71.6,
71.4,71.6,71.5,71.8,71.4,71.6,71.8,71.5,71.9,71.7,72.0,72.1,
]

y_ticks = [24, 36, 48, 60, 72, 84, 96, 108]
x_start = "2025-11-21 00:00:00"
x_end = "2025-11-21 23:58:45"

# ---------------- styling ----------------
BG = "#fff8dc"
MAJ_GRID = "#b3b3b3"
MIN_GRID_Y = "#c9c5bc"
MIN_GRID_X = "#dcd2b0"
TICK_FONT = dict(family="DejaVu Sans", size=8, color="#222")
AX_TITLE_FONT = dict(family="DejaVu Sans", size=11.5, color="#111")

# page body has an 8px margin -> figure is 2384x1184 and sits at (8,8)
OFF = 8
W, H = 2384, 1184
PL, PR, PT, PB = 59 - OFF, W - (2343 - OFF), 84 - OFF, H - (1149 - OFF)
PW, PH = W - PL - PR, H - PT - PB


def px_x(p):
    """screen x pixel -> paper fraction"""
    return (p - OFF - PL) / PW


def px_y(p):
    """screen y pixel -> paper fraction"""
    return (H - PB - (p - OFF)) / PH


fig = go.Figure()


def n(a):
    return t[: len(a)]


# ----- top chart: peaks (markers) then averages (lines)
PEAKS = [("peak dB(Z)", peak_z_on, peak_z_mid, "#2f97ff"),
         ("peak dB(C)", peak_c_on, peak_c_mid, "#ff1cf0"),
         ("peak dB(A)", peak_a_on, peak_a_mid, "#3c8f5a")]
AVGS = [("avg dB(Z)", avg_z, "#4a7fb0"),
        ("avg dB(C)", avg_c, "#de7ad8"),
        ("avg dB(A)", avg_a, "#9acd32")]
for name, v_on, v_mid, col in PEAKS:
    xs = list(t[: len(v_on)]) + list(t_mid[: len(v_mid)])
    fig.add_trace(go.Scatter(x=xs, y=v_on + v_mid, mode="markers", name=name,
                             marker=dict(symbol="cross-thin", size=4,
                                         line=dict(color=col, width=1.1)),
                             xaxis="x", yaxis="y", showlegend=False, hoverinfo="skip"))
for name, vals, col in AVGS:
    fig.add_trace(go.Scatter(x=n(vals), y=vals, mode="lines", name=name,
                             line=dict(color=col, width=1.5),
                             xaxis="x", yaxis="y", showlegend=False, hoverinfo="skip"))

# legend entries for top chart
for name, _, _, col in PEAKS:
    fig.add_trace(go.Scatter(x=[None], y=[None], mode="markers", name=name,
                             marker=dict(symbol="circle", size=6, color=col),
                             xaxis="x", yaxis="y", legend="legend"))
for name, _, col in AVGS:
    fig.add_trace(go.Scatter(x=[None], y=[None], mode="lines", name=name,
                             line=dict(color=col, width=3),
                             xaxis="x", yaxis="y", legend="legend2"))

# ----- bottom chart: envelope then 5-min averages
fig.add_trace(go.Scatter(x=n(env_min), y=env_min, mode="lines",
                         line=dict(color="rgba(240,128,118,0.3)", width=0.6),
                         xaxis="x2", yaxis="y2", showlegend=False, hoverinfo="skip"))
fig.add_trace(go.Scatter(x=n(env_max), y=env_max, mode="lines", fill="tonexty",
                         fillcolor="rgba(240,128,118,0.24)",
                         line=dict(color="rgba(240,128,118,0.4)", width=0.7),
                         xaxis="x2", yaxis="y2", showlegend=False, hoverinfo="skip"))
BOTS = [("dB(Z)", db_z, "#dc143c"),
        ("dB(C)", db_c, "#ff8c00"),
        ("dB(A)", db_a, "#ffd700")]
for name, vals, col in BOTS:
    fig.add_trace(go.Scatter(x=n(vals), y=vals, mode="lines", name=name,
                             line=dict(color=col, width=1.8),
                             xaxis="x2", yaxis="y2", showlegend=False, hoverinfo="skip"))
for name, _, col in BOTS:
    fig.add_trace(go.Scatter(x=[None], y=[None], mode="lines", name=name,
                             line=dict(color=col, width=3),
                             xaxis="x2", yaxis="y2", legend="legend3"))

# empty traces so that the right-hand axes are drawn
fig.add_trace(go.Scatter(x=[None], y=[None], xaxis="x", yaxis="y3", showlegend=False, hoverinfo="skip"))
fig.add_trace(go.Scatter(x=[None], y=[None], xaxis="x2", yaxis="y4", showlegend=False, hoverinfo="skip"))


def xaxis_cfg(anchor, fmt):
    return dict(
        anchor=anchor, domain=[0, 1], type="date", range=[x_start, x_end],
        automargin=False,
        dtick=7200000, tick0=x_start, tickformat=fmt,
        ticks="outside", ticklen=6, tickwidth=1, tickcolor="#222",
        tickfont=TICK_FONT,
        showgrid=True, gridcolor=MAJ_GRID, gridwidth=1.2,
        minor=dict(dtick=1800000, tick0=x_start, ticks="outside", ticklen=4,
                   tickcolor="#222", showgrid=True, gridcolor=MIN_GRID_X,
                   griddash="dot", gridwidth=1),
        showline=True, linecolor="black", linewidth=1.6, mirror=True,
        zeroline=False,
        title=dict(text="time", font=AX_TITLE_FONT, standoff=10),
    )


def yaxis_cfg(anchor, dom, grid=True, side="left", overlay=None):
    d = dict(
        anchor=anchor, range=[24, 108], tickvals=y_ticks, automargin=False,
        ticks="outside", ticklen=7, tickwidth=1, tickcolor="#222",
        tickfont=TICK_FONT, side=side,
        showgrid=grid, gridcolor=MAJ_GRID, gridwidth=1.5,
        minor=dict(dtick=3, tick0=24, ticks="outside", ticklen=4, tickcolor="#222",
                   showgrid=grid, gridcolor=MIN_GRID_Y, griddash="dash", gridwidth=1),
        zeroline=False,
        title=dict(text="dB SPL", font=AX_TITLE_FONT, standoff=6 if side == "left" else 13),
    )
    if overlay:
        d.update(overlaying=overlay, showline=False)
    else:
        d.update(domain=dom, showline=True, linecolor="black", linewidth=1.6, mirror=True)
    return d


top_dom = [px_y(588), 1]
bot_dom = [0, px_y(645)]

LEG_FONT = dict(family="DejaVu Sans", size=10, color="#111")

fig.update_layout(
    width=W, height=H,
    margin=dict(l=PL, r=PR, t=PT, b=PB, autoexpand=False),
    paper_bgcolor="white", plot_bgcolor=BG,
    font=dict(family="DejaVu Sans", color="#111"),
    hovermode=False,
    xaxis=xaxis_cfg("y", "%H:%M"),
    xaxis2=xaxis_cfg("y2", "%H:%M:%S"),
    yaxis=yaxis_cfg("x", top_dom),
    yaxis2=yaxis_cfg("x2", bot_dom),
    yaxis3=yaxis_cfg("x", None, grid=False, side="right", overlay="y"),
    yaxis4=yaxis_cfg("x2", None, grid=False, side="right", overlay="y2"),
    legend=dict(x=px_x(2152), y=px_y(584), xanchor="left", yanchor="bottom",
                bgcolor="rgba(0,0,0,0)", borderwidth=0, tracegroupgap=0,
                traceorder="normal", font=LEG_FONT, itemwidth=30),
    legend2=dict(x=px_x(2246), y=px_y(584), xanchor="left", yanchor="bottom",
                 bgcolor="rgba(0,0,0,0)", borderwidth=0, tracegroupgap=0,
                 traceorder="normal", font=LEG_FONT, itemwidth=30),
    legend3=dict(x=px_x(2338), y=px_y(1144), xanchor="right", yanchor="bottom",
                 bgcolor="rgba(255,248,220,0.9)", bordercolor="#dcc49c", borderwidth=1,
                 tracegroupgap=0, traceorder="normal", font=LEG_FONT, itemwidth=30),
    shapes=[dict(type="rect", xref="paper", yref="paper",
                 x0=px_x(2156), x1=px_x(2338), y0=px_y(583), y1=px_y(524),
                 fillcolor="rgba(255,248,220,0.9)", line=dict(color="#dcc49c", width=1),
                 layer="above")],
    annotations=[
        dict(text="<b>data from [5001/mic0]</b>",
             xref="paper", yref="paper", x=px_x(21.5), y=px_y(18), xanchor="left", yanchor="middle",
             align="left", showarrow=False,
             font=dict(family="DejaVu Sans", size=15, color="black")),
        dict(text="<b>starting point is [20251121_000022]</b>",
             xref="paper", yref="paper", x=px_x(21.5), y=px_y(34), xanchor="left", yanchor="middle",
             align="left", showarrow=False,
             font=dict(family="DejaVu Sans", size=15, color="black")),
        dict(text="<b>average and peak noise level (1 min sampling)</b>",
             xref="paper", yref="paper", x=px_x(57), y=px_y(70), xanchor="left", yanchor="middle",
             showarrow=False, font=dict(family="DejaVu Sans", size=11.5, color="black")),
        dict(text="<b>average noise level (5 min with 15s min/max dB envelope)</b>",
             xref="paper", yref="paper", x=px_x(57), y=px_y(632), xanchor="left", yanchor="middle",
             showarrow=False, font=dict(family="DejaVu Sans", size=11.5, color="black")),
    ],
)

fig.write_html("out.html")
